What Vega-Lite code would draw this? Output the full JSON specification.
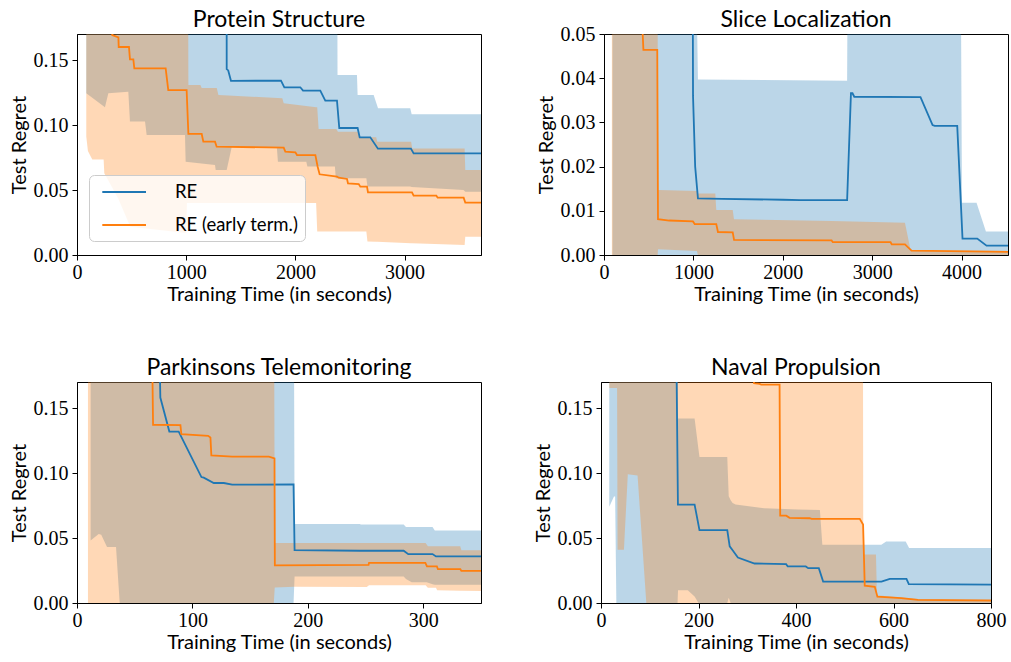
{
"$schema": "https://vega.github.io/schema/vega-lite/v6.json",
"background": "white",
"padding": {"left": 8, "top": 8, "right": 0, "bottom": 0},
"config": {
  "view": {"stroke": "#000", "strokeWidth": 1},
  "axis": {"labelFont": "Liberation Serif", "labelFontSize": 20, "labelColor": "#000", "titleFont": "Lato", "titleFontSize": 20, "titleFontWeight": "normal", "titleColor": "#000", "tickColor": "#000", "domainColor": "#000", "grid": false, "tickSize": 5, "labelFlush": false, "labelOverlap": false},
  "axisX": {"labelPadding": 2, "titlePadding": 2},
  "axisY": {"labelPadding": 4},
  "title": {"font": "Lato", "fontSize": 23, "fontWeight": "normal", "color": "#000", "offset": 2}
},
"datasets": {
"p1l": [
{"s":"RE","t":1370,"v":0.3},{"s":"RE","t":1371,"v":0.143},{"s":"RE","t":1385,"v":0.142},{"s":"RE","t":1410,"v":0.134},{"s":"RE","t":1868,"v":0.1341},{"s":"RE","t":1899,"v":0.129},{"s":"RE","t":2045,"v":0.129},{"s":"RE","t":2070,"v":0.1264},{"s":"RE","t":2228,"v":0.1264},{"s":"RE","t":2274,"v":0.1187},{"s":"RE","t":2381,"v":0.1187},{"s":"RE","t":2402,"v":0.0977},{"s":"RE","t":2570,"v":0.0977},{"s":"RE","t":2589,"v":0.0905},{"s":"RE","t":2686,"v":0.0905},{"s":"RE","t":2756,"v":0.0818},{"s":"RE","t":3058,"v":0.0818},{"s":"RE","t":3083,"v":0.0782},{"s":"RE","t":3700,"v":0.0782},
{"s":"RE (early term.)","t":300,"v":0.2},{"s":"RE (early term.)","t":323,"v":0.1692},{"s":"RE (early term.)","t":379,"v":0.1674},{"s":"RE (early term.)","t":382,"v":0.16},{"s":"RE (early term.)","t":476,"v":0.16},{"s":"RE (early term.)","t":485,"v":0.1505},{"s":"RE (early term.)","t":516,"v":0.1505},{"s":"RE (early term.)","t":525,"v":0.1436},{"s":"RE (early term.)","t":812,"v":0.1436},{"s":"RE (early term.)","t":836,"v":0.1269},{"s":"RE (early term.)","t":1004,"v":0.1269},{"s":"RE (early term.)","t":1020,"v":0.0931},{"s":"RE (early term.)","t":1142,"v":0.0931},{"s":"RE (early term.)","t":1157,"v":0.0872},{"s":"RE (early term.)","t":1264,"v":0.0872},{"s":"RE (early term.)","t":1279,"v":0.0833},{"s":"RE (early term.)","t":1893,"v":0.0826},{"s":"RE (early term.)","t":1908,"v":0.0795},{"s":"RE (early term.)","t":2000,"v":0.079},{"s":"RE (early term.)","t":2015,"v":0.0769},{"s":"RE (early term.)","t":2183,"v":0.0769},{"s":"RE (early term.)","t":2204,"v":0.0679},{"s":"RE (early term.)","t":2222,"v":0.0621},{"s":"RE (early term.)","t":2381,"v":0.0603},{"s":"RE (early term.)","t":2396,"v":0.0595},{"s":"RE (early term.)","t":2473,"v":0.0585},{"s":"RE (early term.)","t":2482,"v":0.0551},{"s":"RE (early term.)","t":2580,"v":0.0546},{"s":"RE (early term.)","t":2595,"v":0.0526},{"s":"RE (early term.)","t":2656,"v":0.0526},{"s":"RE (early term.)","t":2665,"v":0.0482},{"s":"RE (early term.)","t":3068,"v":0.0482},{"s":"RE (early term.)","t":3083,"v":0.0456},{"s":"RE (early term.)","t":3291,"v":0.0456},{"s":"RE (early term.)","t":3303,"v":0.0441},{"s":"RE (early term.)","t":3541,"v":0.0441},{"s":"RE (early term.)","t":3556,"v":0.0403},{"s":"RE (early term.)","t":3700,"v":0.0403}
],
"p1b": [
{"s":"RE","t":85,"lo":0.1244,"hi":0.3},{"s":"RE","t":256,"lo":0.1136,"hi":0.3},{"s":"RE","t":287,"lo":0.1244,"hi":0.3},{"s":"RE","t":470,"lo":0.1256,"hi":0.3},{"s":"RE","t":485,"lo":0.1026,"hi":0.3},{"s":"RE","t":623,"lo":0.1026,"hi":0.3},{"s":"RE","t":638,"lo":0.0923,"hi":0.3},{"s":"RE","t":989,"lo":0.0923,"hi":0.3},{"s":"RE","t":995,"lo":0.0718,"hi":0.3},{"s":"RE","t":1264,"lo":0.0692,"hi":0.3},{"s":"RE","t":1270,"lo":0.0654,"hi":0.3},{"s":"RE","t":1371,"lo":0.0654,"hi":0.3},{"s":"RE","t":1417,"lo":0.083,"hi":0.3},{"s":"RE","t":1830,"lo":0.083,"hi":0.3},{"s":"RE","t":1840,"lo":0.0718,"hi":0.3},{"s":"RE","t":2100,"lo":0.0718,"hi":0.3},{"s":"RE","t":2110,"lo":0.068,"hi":0.3},{"s":"RE","t":2362,"lo":0.068,"hi":0.3},{"s":"RE","t":2370,"lo":0.059,"hi":0.3},{"s":"RE","t":2381,"lo":0.059,"hi":0.3},{"s":"RE","t":2386,"lo":0.059,"hi":0.1385},{"s":"RE","t":2564,"lo":0.059,"hi":0.1385},{"s":"RE","t":2570,"lo":0.059,"hi":0.123},{"s":"RE","t":2650,"lo":0.059,"hi":0.123},{"s":"RE","t":2660,"lo":0.0526,"hi":0.123},{"s":"RE","t":2717,"lo":0.0526,"hi":0.123},{"s":"RE","t":2757,"lo":0.0526,"hi":0.1128},{"s":"RE","t":3052,"lo":0.0526,"hi":0.1128},{"s":"RE","t":3065,"lo":0.0524,"hi":0.1082},{"s":"RE","t":3540,"lo":0.05,"hi":0.1082},{"s":"RE","t":3556,"lo":0.0487,"hi":0.1082},{"s":"RE","t":3700,"lo":0.0487,"hi":0.1082},
{"s":"RE (early term.)","t":85,"lo":0.0912,"hi":0.3},{"s":"RE (early term.)","t":100,"lo":0.08,"hi":0.3},{"s":"RE (early term.)","t":140,"lo":0.0735,"hi":0.3},{"s":"RE (early term.)","t":244,"lo":0.0735,"hi":0.3},{"s":"RE (early term.)","t":250,"lo":0.0628,"hi":0.3},{"s":"RE (early term.)","t":376,"lo":0.0436,"hi":0.3},{"s":"RE (early term.)","t":488,"lo":0.0218,"hi":0.3},{"s":"RE (early term.)","t":1001,"lo":0.017,"hi":0.3},{"s":"RE (early term.)","t":1007,"lo":0.04,"hi":0.3},{"s":"RE (early term.)","t":1015,"lo":0.04,"hi":0.3},{"s":"RE (early term.)","t":1020,"lo":0.04,"hi":0.1308},{"s":"RE (early term.)","t":1130,"lo":0.04,"hi":0.1308},{"s":"RE (early term.)","t":1142,"lo":0.04,"hi":0.1285},{"s":"RE (early term.)","t":1280,"lo":0.04,"hi":0.1285},{"s":"RE (early term.)","t":1295,"lo":0.04,"hi":0.123},{"s":"RE (early term.)","t":1600,"lo":0.04,"hi":0.1218},{"s":"RE (early term.)","t":1880,"lo":0.04,"hi":0.1205},{"s":"RE (early term.)","t":1893,"lo":0.04,"hi":0.1167},{"s":"RE (early term.)","t":2190,"lo":0.04,"hi":0.1136},{"s":"RE (early term.)","t":2200,"lo":0.018,"hi":0.1136},{"s":"RE (early term.)","t":2213,"lo":0.018,"hi":0.0969},{"s":"RE (early term.)","t":2375,"lo":0.018,"hi":0.0969},{"s":"RE (early term.)","t":2390,"lo":0.018,"hi":0.0949},{"s":"RE (early term.)","t":2570,"lo":0.018,"hi":0.0949},{"s":"RE (early term.)","t":2585,"lo":0.018,"hi":0.0905},{"s":"RE (early term.)","t":2650,"lo":0.018,"hi":0.0905},{"s":"RE (early term.)","t":2660,"lo":0.0103,"hi":0.0905},{"s":"RE (early term.)","t":2740,"lo":0.0101,"hi":0.0905},{"s":"RE (early term.)","t":2750,"lo":0.0101,"hi":0.0872},{"s":"RE (early term.)","t":3060,"lo":0.009,"hi":0.0872},{"s":"RE (early term.)","t":3070,"lo":0.009,"hi":0.082},{"s":"RE (early term.)","t":3550,"lo":0.0077,"hi":0.082},{"s":"RE (early term.)","t":3556,"lo":0.014,"hi":0.0654},{"s":"RE (early term.)","t":3700,"lo":0.014,"hi":0.0654}
],
"p2l": [
{"s":"RE","t":993,"v":0.06},{"s":"RE","t":996,"v":0.036},{"s":"RE","t":1020,"v":0.02},{"s":"RE","t":1051,"v":0.0128},{"s":"RE","t":1320,"v":0.0127},{"s":"RE","t":2000,"v":0.0125},{"s":"RE","t":2200,"v":0.0124},{"s":"RE","t":2720,"v":0.0124},{"s":"RE","t":2763,"v":0.0366},{"s":"RE","t":2780,"v":0.0366},{"s":"RE","t":2800,"v":0.0358},{"s":"RE","t":3541,"v":0.0357},{"s":"RE","t":3676,"v":0.0294},{"s":"RE","t":3700,"v":0.0292},{"s":"RE","t":3952,"v":0.0292},{"s":"RE","t":4011,"v":0.0037},{"s":"RE","t":4176,"v":0.0037},{"s":"RE","t":4280,"v":0.0021},{"s":"RE","t":4520,"v":0.0021},
{"s":"RE (early term.)","t":410,"v":0.06},{"s":"RE (early term.)","t":441,"v":0.0464},{"s":"RE (early term.)","t":596,"v":0.0464},{"s":"RE (early term.)","t":604,"v":0.0081},{"s":"RE (early term.)","t":730,"v":0.0078},{"s":"RE (early term.)","t":995,"v":0.0076},{"s":"RE (early term.)","t":1015,"v":0.007},{"s":"RE (early term.)","t":1256,"v":0.007},{"s":"RE (early term.)","t":1275,"v":0.0052},{"s":"RE (early term.)","t":1440,"v":0.0051},{"s":"RE (early term.)","t":1455,"v":0.0034},{"s":"RE (early term.)","t":2546,"v":0.0033},{"s":"RE (early term.)","t":2560,"v":0.0029},{"s":"RE (early term.)","t":3206,"v":0.0029},{"s":"RE (early term.)","t":3220,"v":0.0024},{"s":"RE (early term.)","t":3367,"v":0.0024},{"s":"RE (early term.)","t":3441,"v":0.001},{"s":"RE (early term.)","t":4520,"v":0.0007}
],
"p2b": [
{"s":"RE","t":95,"lo":0,"hi":0.06},{"s":"RE","t":1035,"lo":0,"hi":0.06},{"s":"RE","t":1051,"lo":0,"hi":0.0397},{"s":"RE","t":2720,"lo":0,"hi":0.0394},{"s":"RE","t":2725,"lo":0,"hi":0.06},{"s":"RE","t":3993,"lo":0,"hi":0.06},{"s":"RE","t":4005,"lo":0,"hi":0.0118},{"s":"RE","t":4168,"lo":0,"hi":0.0118},{"s":"RE","t":4273,"lo":0,"hi":0.0053},{"s":"RE","t":4520,"lo":0,"hi":0.0053},
{"s":"RE (early term.)","t":88,"lo":0,"hi":0.06},{"s":"RE (early term.)","t":600,"lo":0,"hi":0.06},{"s":"RE (early term.)","t":604,"lo":0.0013,"hi":0.0147},{"s":"RE (early term.)","t":1040,"lo":0.0009,"hi":0.0145},{"s":"RE (early term.)","t":1050,"lo":0,"hi":0.0139},{"s":"RE (early term.)","t":1245,"lo":0,"hi":0.0139},{"s":"RE (early term.)","t":1256,"lo":0,"hi":0.0102},{"s":"RE (early term.)","t":1440,"lo":0,"hi":0.0102},{"s":"RE (early term.)","t":1454,"lo":0,"hi":0.0081},{"s":"RE (early term.)","t":2546,"lo":0,"hi":0.0077},{"s":"RE (early term.)","t":3367,"lo":0,"hi":0.0073},{"s":"RE (early term.)","t":3430,"lo":0,"hi":0.0011},{"s":"RE (early term.)","t":4520,"lo":0,"hi":0.0009}
],
"p3l": [
{"s":"RE","t":71.3,"v":0.2},{"s":"RE","t":72.2,"v":0.158},{"s":"RE","t":80,"v":0.1319},{"s":"RE","t":88.1,"v":0.1319},{"s":"RE","t":107.8,"v":0.0969},{"s":"RE","t":109.8,"v":0.0964},{"s":"RE","t":118.5,"v":0.0923},{"s":"RE","t":127.2,"v":0.0923},{"s":"RE","t":134.4,"v":0.091},{"s":"RE","t":187.6,"v":0.0912},{"s":"RE","t":188.5,"v":0.0407},{"s":"RE","t":245,"v":0.0402},{"s":"RE","t":283,"v":0.0402},{"s":"RE","t":287,"v":0.0376},{"s":"RE","t":308,"v":0.0376},{"s":"RE","t":311,"v":0.0358},{"s":"RE","t":350,"v":0.0358},
{"s":"RE (early term.)","t":65,"v":0.2},{"s":"RE (early term.)","t":65.9,"v":0.1371},{"s":"RE (early term.)","t":89.6,"v":0.1368},{"s":"RE (early term.)","t":90.4,"v":0.1298},{"s":"RE (early term.)","t":113.6,"v":0.1286},{"s":"RE (early term.)","t":115.6,"v":0.1273},{"s":"RE (early term.)","t":116.4,"v":0.1136},{"s":"RE (early term.)","t":134.4,"v":0.1126},{"s":"RE (early term.)","t":166.2,"v":0.1126},{"s":"RE (early term.)","t":171.1,"v":0.1113},{"s":"RE (early term.)","t":171.4,"v":0.0289},{"s":"RE (early term.)","t":252.6,"v":0.0294},{"s":"RE (early term.)","t":253,"v":0.0309},{"s":"RE (early term.)","t":301.8,"v":0.0309},{"s":"RE (early term.)","t":303.2,"v":0.0281},{"s":"RE (early term.)","t":311.8,"v":0.0281},{"s":"RE (early term.)","t":312.7,"v":0.026},{"s":"RE (early term.)","t":332.1,"v":0.026},{"s":"RE (early term.)","t":333,"v":0.0247},{"s":"RE (early term.)","t":350,"v":0.0247}
],
"p3b": [
{"s":"RE","t":11.8,"lo":0.048,"hi":0.3},{"s":"RE","t":18.8,"lo":0.053,"hi":0.3},{"s":"RE","t":21,"lo":0.0525,"hi":0.3},{"s":"RE","t":26,"lo":0.043,"hi":0.3},{"s":"RE","t":33.8,"lo":0.043,"hi":0.3},{"s":"RE","t":37,"lo":0,"hi":0.3},{"s":"RE","t":187.6,"lo":0,"hi":0.3},{"s":"RE","t":188.5,"lo":0.0204,"hi":0.0608},{"s":"RE","t":245,"lo":0.0204,"hi":0.0608},{"s":"RE","t":246,"lo":0.0204,"hi":0.0603},{"s":"RE","t":283,"lo":0.0204,"hi":0.0603},{"s":"RE","t":285,"lo":0.0185,"hi":0.0585},{"s":"RE","t":290,"lo":0.016,"hi":0.0585},{"s":"RE","t":303,"lo":0.016,"hi":0.0585},{"s":"RE","t":308,"lo":0.0145,"hi":0.0585},{"s":"RE","t":310,"lo":0.014,"hi":0.0557},{"s":"RE","t":350,"lo":0.014,"hi":0.0557},
{"s":"RE (early term.)","t":9.5,"lo":0,"hi":0.3},{"s":"RE (early term.)","t":170.5,"lo":0,"hi":0.3},{"s":"RE (early term.)","t":171.3,"lo":0.0119,"hi":0.0461},{"s":"RE (early term.)","t":188,"lo":0.0125,"hi":0.0461},{"s":"RE (early term.)","t":251,"lo":0.0124,"hi":0.0461},{"s":"RE (early term.)","t":253,"lo":0.0136,"hi":0.0461},{"s":"RE (early term.)","t":302,"lo":0.0136,"hi":0.0461},{"s":"RE (early term.)","t":304,"lo":0.0118,"hi":0.0436},{"s":"RE (early term.)","t":311,"lo":0.0118,"hi":0.0436},{"s":"RE (early term.)","t":312,"lo":0.0098,"hi":0.0436},{"s":"RE (early term.)","t":332,"lo":0.0095,"hi":0.0436},{"s":"RE (early term.)","t":333,"lo":0.0095,"hi":0.0405},{"s":"RE (early term.)","t":350,"lo":0.0093,"hi":0.0405}
],
"p4l": [
{"s":"RE","t":154.4,"v":0.2},{"s":"RE","t":157.8,"v":0.0757},{"s":"RE","t":192,"v":0.0757},{"s":"RE","t":202,"v":0.056},{"s":"RE","t":259,"v":0.056},{"s":"RE","t":264,"v":0.0436},{"s":"RE","t":270,"v":0.0406},{"s":"RE","t":280.8,"v":0.035},{"s":"RE","t":315,"v":0.0304},{"s":"RE","t":379.8,"v":0.0299},{"s":"RE","t":383,"v":0.0281},{"s":"RE","t":420,"v":0.0281},{"s":"RE","t":425,"v":0.0268},{"s":"RE","t":446.8,"v":0.0268},{"s":"RE","t":455.7,"v":0.0165},{"s":"RE","t":575.3,"v":0.0165},{"s":"RE","t":592.4,"v":0.0186},{"s":"RE","t":626.6,"v":0.0186},{"s":"RE","t":631.4,"v":0.0145},{"s":"RE","t":800,"v":0.0142},
{"s":"RE (early term.)","t":311,"v":0.18},{"s":"RE (early term.)","t":314,"v":0.169},{"s":"RE (early term.)","t":325.3,"v":0.1685},{"s":"RE (early term.)","t":328.7,"v":0.168},{"s":"RE (early term.)","t":366.3,"v":0.168},{"s":"RE (early term.)","t":367.6,"v":0.0672},{"s":"RE (early term.)","t":380,"v":0.0672},{"s":"RE (early term.)","t":386.7,"v":0.0655},{"s":"RE (early term.)","t":428,"v":0.0652},{"s":"RE (early term.)","t":432,"v":0.0647},{"s":"RE (early term.)","t":530.8,"v":0.0647},{"s":"RE (early term.)","t":537.6,"v":0.0603},{"s":"RE (early term.)","t":541,"v":0.0134},{"s":"RE (early term.)","t":561.6,"v":0.0125},{"s":"RE (early term.)","t":567,"v":0.0049},{"s":"RE (early term.)","t":616,"v":0.0037},{"s":"RE (early term.)","t":650,"v":0.0024},{"s":"RE (early term.)","t":800,"v":0.0019}
],
"p4b": [
{"s":"RE","t":17,"lo":0.074,"hi":0.3},{"s":"RE","t":26.6,"lo":0.082,"hi":0.3},{"s":"RE","t":29,"lo":0.082,"hi":0.3},{"s":"RE","t":31.5,"lo":0,"hi":0.3},{"s":"RE","t":157,"lo":0,"hi":0.3},{"s":"RE","t":158,"lo":0.0098,"hi":0.142},{"s":"RE","t":178,"lo":0.0098,"hi":0.142},{"s":"RE","t":192,"lo":0.005,"hi":0.142},{"s":"RE","t":200,"lo":0,"hi":0.118},{"s":"RE","t":202,"lo":0,"hi":0.1124},{"s":"RE","t":259,"lo":0,"hi":0.1124},{"s":"RE","t":262,"lo":0.004,"hi":0.0822},{"s":"RE","t":266,"lo":0,"hi":0.079},{"s":"RE","t":270,"lo":0,"hi":0.077},{"s":"RE","t":276,"lo":0,"hi":0.0758},{"s":"RE","t":335,"lo":0,"hi":0.0728},{"s":"RE","t":404,"lo":0,"hi":0.072},{"s":"RE","t":449,"lo":0,"hi":0.0716},{"s":"RE","t":454,"lo":0,"hi":0.0448},{"s":"RE","t":575,"lo":0,"hi":0.0448},{"s":"RE","t":585,"lo":0,"hi":0.0474},{"s":"RE","t":625,"lo":0,"hi":0.0474},{"s":"RE","t":632,"lo":0,"hi":0.0423},{"s":"RE","t":800,"lo":0,"hi":0.0423},
{"s":"RE (early term.)","t":17,"lo":0.1654,"hi":0.3},{"s":"RE (early term.)","t":33,"lo":0.1654,"hi":0.3},{"s":"RE (early term.)","t":34,"lo":0.041,"hi":0.3},{"s":"RE (early term.)","t":47,"lo":0.041,"hi":0.3},{"s":"RE (early term.)","t":55,"lo":0.099,"hi":0.3},{"s":"RE (early term.)","t":75,"lo":0.098,"hi":0.3},{"s":"RE (early term.)","t":93,"lo":0,"hi":0.3},{"s":"RE (early term.)","t":537,"lo":0,"hi":0.3},{"s":"RE (early term.)","t":538,"lo":0,"hi":0.0374},{"s":"RE (early term.)","t":564,"lo":0,"hi":0.0374},{"s":"RE (early term.)","t":566,"lo":0,"hi":0.006},{"s":"RE (early term.)","t":620,"lo":0,"hi":0.004},{"s":"RE (early term.)","t":650,"lo":0,"hi":0.003},{"s":"RE (early term.)","t":800,"lo":0,"hi":0.003}
]
},
"vconcat": [
{"hconcat": [
{"width": 404, "height": 221, "title": "Protein Structure",
 "layer": [
  {"data": {"name": "p1b"}, "mark": {"type": "area", "clip": true, "fillOpacity": 0.3},
   "encoding": {
    "x": {"field": "t", "type": "quantitative", "title": "Training Time (in seconds)", "scale": {"domain": [0, 3700], "nice": false}, "axis": {"values": [0, 1000, 2000, 3000], "format": "d"}},
    "y": {"field": "hi", "type": "quantitative", "title": "Test Regret", "scale": {"domain": [0, 0.17], "nice": false}, "axis": {"values": [0, 0.05, 0.1, 0.15], "format": ".2f"}},
    "y2": {"field": "lo"},
    "fill": {"field": "s", "type": "nominal", "scale": {"domain": ["RE (early term.)", "RE"], "range": ["#ff7f0e", "#1f77b4"]}, "legend": null}}},
  {"data": {"name": "p1l"}, "mark": {"type": "line", "clip": true, "strokeWidth": 1.8},
   "encoding": {
    "x": {"field": "t", "type": "quantitative", "title": "Training Time (in seconds)", "scale": {"domain": [0, 3700], "nice": false}},
    "y": {"field": "v", "type": "quantitative", "title": "Test Regret", "scale": {"domain": [0, 0.17], "nice": false}},
    "stroke": {"field": "s", "type": "nominal", "scale": {"domain": ["RE", "RE (early term.)"], "range": ["#1f77b4", "#ff7f0e"]},
      "legend": {"title": null, "orient": "none", "legendX": 12, "legendY": 141, "symbolType": "M-0.37,0H4.0", "symbolSize": 400, "symbolStrokeWidth": 1.8, "labelFont": "Lato", "labelFontSize": 18.5, "labelColor": "#000", "labelOffset": 58, "rowPadding": 12, "padding": 6, "fillColor": "rgba(255,255,255,0.8)", "strokeColor": "#cccccc", "cornerRadius": 5}}}}
 ]},
{"width": 404, "height": 221, "title": {"text": "Slice Localization", "offset": -8},
 "layer": [
  {"data": {"name": "p2b"}, "mark": {"type": "area", "clip": true, "fillOpacity": 0.3},
   "encoding": {
    "x": {"field": "t", "type": "quantitative", "title": "Training Time (in seconds)", "scale": {"domain": [0, 4520], "nice": false}, "axis": {"values": [0, 1000, 2000, 3000, 4000], "format": "d"}},
    "y": {"field": "hi", "type": "quantitative", "title": "Test Regret", "scale": {"domain": [0, 0.05], "nice": false}, "axis": {"values": [0, 0.01, 0.02, 0.03, 0.04, 0.05], "format": ".2f"}},
    "y2": {"field": "lo"},
    "fill": {"field": "s", "type": "nominal", "scale": {"domain": ["RE (early term.)", "RE"], "range": ["#ff7f0e", "#1f77b4"]}, "legend": null}}},
  {"data": {"name": "p2l"}, "mark": {"type": "line", "clip": true, "strokeWidth": 1.8},
   "encoding": {
    "x": {"field": "t", "type": "quantitative", "title": "Training Time (in seconds)", "scale": {"domain": [0, 4520], "nice": false}},
    "y": {"field": "v", "type": "quantitative", "title": "Test Regret", "scale": {"domain": [0, 0.05], "nice": false}},
    "stroke": {"field": "s", "type": "nominal", "scale": {"domain": ["RE", "RE (early term.)"], "range": ["#1f77b4", "#ff7f0e"]}, "legend": null}}}
 ]}
], "spacing": 123, "bounds": "flush",
 "resolve": {"scale": {"fill": "independent", "stroke": "independent"}, "legend": {"fill": "independent", "stroke": "independent"}}},
{"hconcat": [
{"width": 404, "height": 221, "title": "Parkinsons Telemonitoring",
 "layer": [
  {"data": {"name": "p3b"}, "mark": {"type": "area", "clip": true, "fillOpacity": 0.3},
   "encoding": {
    "x": {"field": "t", "type": "quantitative", "title": "Training Time (in seconds)", "scale": {"domain": [0, 350], "nice": false}, "axis": {"values": [0, 100, 200, 300], "format": "d"}},
    "y": {"field": "hi", "type": "quantitative", "title": "Test Regret", "scale": {"domain": [0, 0.17], "nice": false}, "axis": {"values": [0, 0.05, 0.1, 0.15], "format": ".2f"}},
    "y2": {"field": "lo"},
    "fill": {"field": "s", "type": "nominal", "scale": {"domain": ["RE (early term.)", "RE"], "range": ["#ff7f0e", "#1f77b4"]}, "legend": null}}},
  {"data": {"name": "p3l"}, "mark": {"type": "line", "clip": true, "strokeWidth": 1.8},
   "encoding": {
    "x": {"field": "t", "type": "quantitative", "title": "Training Time (in seconds)", "scale": {"domain": [0, 350], "nice": false}},
    "y": {"field": "v", "type": "quantitative", "title": "Test Regret", "scale": {"domain": [0, 0.17], "nice": false}},
    "stroke": {"field": "s", "type": "nominal", "scale": {"domain": ["RE", "RE (early term.)"], "range": ["#1f77b4", "#ff7f0e"]}, "legend": null}}}
 ]},
{"width": 390, "height": 221, "title": "Naval Propulsion",
 "layer": [
  {"data": {"name": "p4b"}, "mark": {"type": "area", "clip": true, "fillOpacity": 0.3},
   "encoding": {
    "x": {"field": "t", "type": "quantitative", "title": "Training Time (in seconds)", "scale": {"domain": [0, 800], "nice": false}, "axis": {"values": [0, 200, 400, 600, 800], "format": "d"}},
    "y": {"field": "hi", "type": "quantitative", "title": "Test Regret", "scale": {"domain": [0, 0.17], "nice": false}, "axis": {"values": [0, 0.05, 0.1, 0.15], "format": ".2f"}},
    "y2": {"field": "lo"},
    "fill": {"field": "s", "type": "nominal", "scale": {"domain": ["RE (early term.)", "RE"], "range": ["#ff7f0e", "#1f77b4"]}, "legend": null}}},
  {"data": {"name": "p4l"}, "mark": {"type": "line", "clip": true, "strokeWidth": 1.8},
   "encoding": {
    "x": {"field": "t", "type": "quantitative", "title": "Training Time (in seconds)", "scale": {"domain": [0, 800], "nice": false}},
    "y": {"field": "v", "type": "quantitative", "title": "Test Regret", "scale": {"domain": [0, 0.17], "nice": false}},
    "stroke": {"field": "s", "type": "nominal", "scale": {"domain": ["RE", "RE (early term.)"], "range": ["#1f77b4", "#ff7f0e"]}, "legend": null}}}
 ]}
], "spacing": 120, "bounds": "flush",
 "resolve": {"scale": {"fill": "independent", "stroke": "independent"}, "legend": {"fill": "independent", "stroke": "independent"}}}
],
"spacing": 51,
"resolve": {"scale": {"fill": "independent", "stroke": "independent"}, "legend": {"fill": "independent", "stroke": "independent"}}
}
